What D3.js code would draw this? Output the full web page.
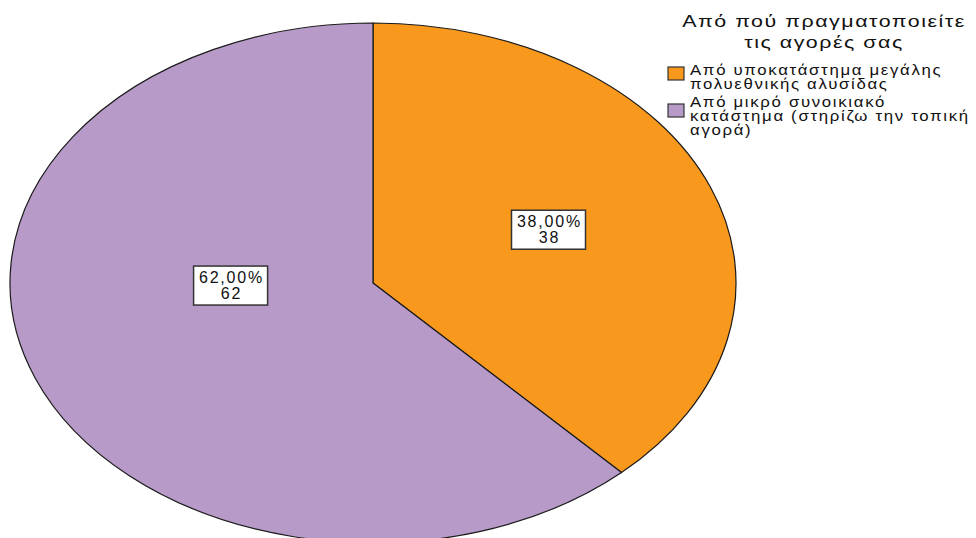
<!DOCTYPE html>
<html>
<head>
<meta charset="utf-8">
<script src="https://cdn.jsdelivr.net/npm/d3@7/dist/d3.min.js"></script>
<style>
  html, body { margin: 0; padding: 0; background: #fff; }
  svg { display: block; }
  text { font-family: "Liberation Sans", Arial, sans-serif; fill: #111; }
</style>
</head>
<body>
<svg id="chart" width="976" height="538"></svg>
<script>
// Survey answers: where purchases are made
const categories = [
  ["Από υποκατάστημα μεγάλης", "πολυεθνικής αλυσίδας"],
  ["Από μικρό συνοικιακό", "κατάστημα (στηρίζω την τοπική", "αγορά)"]
];
const counts = [38, 62];
const percents = ["38,00%", "62,00%"];
const colors = ["#f8991d", "#b79ac8"];
const legendTitle = ["Από πού πραγματοποιείτε", "τις αγορές σας"];

const svg = d3.select("#chart");

// Elliptical pie: drawn on a unit circle, stretched to the ellipse
const cx = 373, cy = 283, rx = 363, ry = 260;
const R = 100;
const pie = d3.pie().sort(null).value(d => d);
const arcs = pie(counts);
const arc = d3.arc().innerRadius(0).outerRadius(R);

const pieG = svg.append("g")
  .attr("transform", `translate(${cx},${cy}) scale(${rx / R},${ry / R})`);

pieG.selectAll("path")
  .data(arcs)
  .join("path")
  .attr("d", arc)
  .attr("fill", (d, i) => colors[i])
  .attr("stroke", "#1a1a1a")
  .attr("stroke-width", 1.2)
  .attr("vector-effect", "non-scaling-stroke")
  .attr("stroke-linejoin", "round");

// Value labels inside slices (radial fraction, optional fixed direction in degrees)
const labelPlace = [
  { frac: 0.52, deg: null },
  { frac: 0.393, deg: 266.6 }
];
const labelG = svg.append("g");
arcs.forEach((d, i) => {
  const p = labelPlace[i];
  const a = p.deg != null ? p.deg * Math.PI / 180 : (d.startAngle + d.endAngle) / 2;
  const x = cx + Math.sin(a) * rx * p.frac;
  const y = cy - Math.cos(a) * ry * p.frac;
  const g = labelG.append("g").attr("transform", `translate(${x},${y})`);
  g.append("rect")
    .attr("x", -37).attr("y", -23).attr("width", 74).attr("height", 39)
    .attr("fill", "#fff").attr("stroke", "#333").attr("stroke-width", 1.5);
  const t = g.append("text")
    .attr("text-anchor", "middle")
    .style("font-size", "16px")
    .style("letter-spacing", "1.8px");
  t.append("tspan").attr("x", 0.9).attr("y", -6).text(percents[i]);
  t.append("tspan").attr("x", 0.9).attr("y", 10).text(counts[i]);
});

// Legend (text slightly widened horizontally)
const lg = svg.append("g");
const titleCx = 824;
lg.append("g")
  .attr("transform", `translate(${titleCx},0) scale(1.26,1)`)
  .selectAll("text")
  .data(legendTitle)
  .join("text")
  .attr("x", 0)
  .attr("y", (d, i) => 27 + i * 21)
  .attr("text-anchor", "middle")
  .style("font-size", "17px")
  .style("letter-spacing", "1.2px")
  .text(d => d);

const firstBaseline = [75, 107.5];
const swatchY = [67, 104];
categories.forEach((lines, i) => {
  lg.append("rect")
    .attr("x", 668).attr("y", swatchY[i])
    .attr("width", 16).attr("height", 13)
    .attr("fill", colors[i])
    .attr("stroke", "#333").attr("stroke-width", 1.2);
  lg.append("g")
    .attr("transform", "translate(690,0) scale(1.12,1)")
    .append("text")
    .style("font-size", "15px")
    .style("letter-spacing", "1.5px")
    .selectAll("tspan")
    .data(lines)
    .join("tspan")
    .attr("x", 0)
    .attr("y", (d, j) => firstBaseline[i] + j * 14)
    .text(d => d);
});
</script>
</body>
</html>
